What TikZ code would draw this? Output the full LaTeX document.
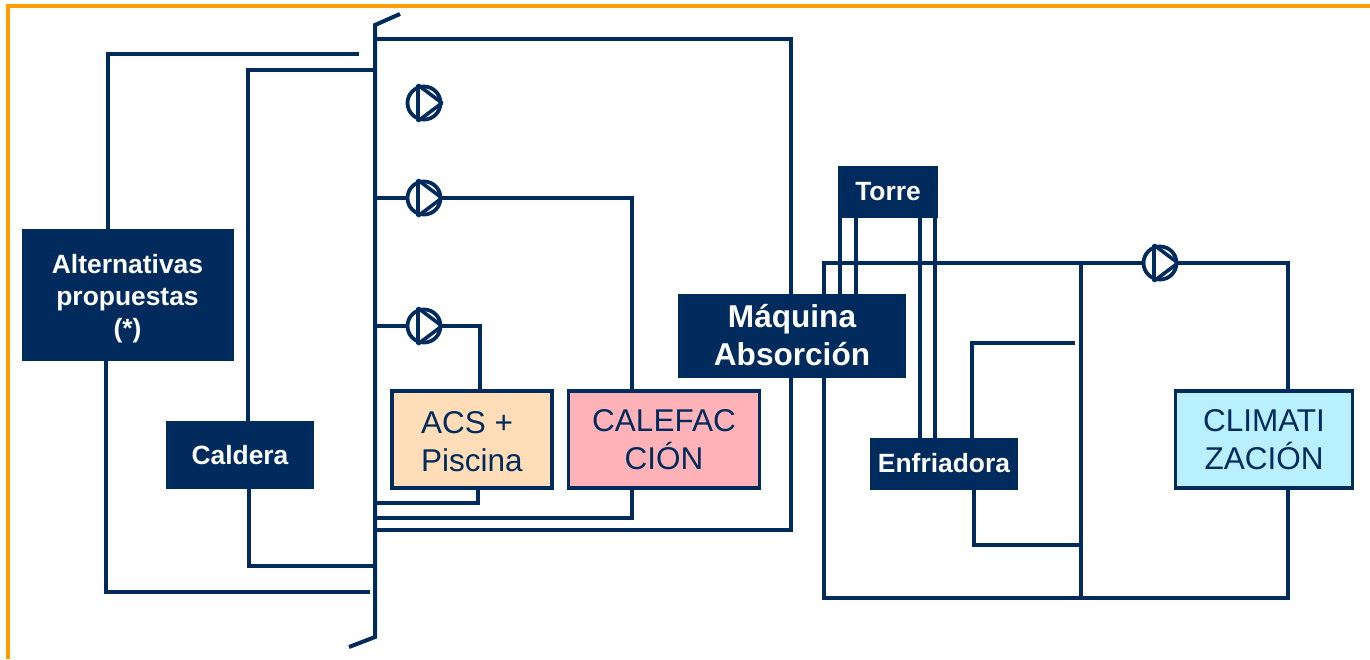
\documentclass[tikz,border=0pt]{standalone}
\usepackage{fontspec}
\setmainfont{Liberation Sans}
\usetikzlibrary{positioning}
\definecolor{navy}{HTML}{002B5C}
\definecolor{marco}{HTML}{FF9E00}
\definecolor{acsfill}{HTML}{FFDDB8}
\definecolor{calfill}{HTML}{FFB3B8}
\definecolor{climfill}{HTML}{B8F0FF}
\tikzset{
pipe/.style={draw=navy,line width=3.4pt}, % the water circuits
equipo/.style={fill=navy,draw=navy,line width=3pt,text=white,font=\fontsize{26.4}{32}\selectfont\bfseries,align=center,inner sep=0pt,outer sep=0pt},
consumo/.style={draw=navy,line width=3.4pt,text=navy,font=\fontsize{31.5}{38}\selectfont,align=center,inner sep=0pt,outer sep=0pt,minimum height=97pt},
bomba/.style={circle,draw=navy,line width=3.8pt,minimum size=33pt,inner sep=0pt,outer sep=0pt},
}

\begin{document}
\begin{tikzpicture}[x=1pt,y=-1pt,on grid]
    \useasboundingbox (0,0) rectangle (1370,659);
    \draw[draw=marco,line width=4pt] (8,659) -- (8,6) -- (1370,6);

    \node[equipo,minimum width=209pt,minimum height=129pt] (alternativas) at (127.5,295) {\rule{0pt}{27pt}Alternativas\\propuestas\\(*)};
    \node[equipo,minimum width=145pt,minimum height=65pt] (caldera) [below right=160pt and 112.5pt of alternativas] {Caldera};
    \node[consumo,fill=acsfill,minimum width=160pt,align=left] (acs) [above right=15.5pt and 232pt of caldera] {\rule{0pt}{26.5pt}ACS +\\Piscina};
    \node[consumo,fill=calfill,minimum width=191pt] (calefaccion) [right=192pt of acs] {CALEFAC\\CIÓN};
    \node[equipo,font=\fontsize{31.6}{38}\selectfont\bfseries,minimum width=225pt,minimum height=81pt] (maquina) [above right=104pt and 128pt of calefaccion] {Máquina\\Absorción};
    \node[equipo,minimum width=97pt,minimum height=49pt] (torre) [above right=144pt and 96pt of maquina] {Torre};
    \node[equipo,minimum width=145pt,minimum height=49pt] (enfriadora) [below right=272pt and 56pt of torre] {Enfriadora};
    \node[consumo,fill=climfill,minimum width=177pt] (climatizacion) [right=320pt of enfriadora,yshift=24pt] {CLIMATI\\ZACIÓN};

    \node[bomba] (pump1) at (424,103) {};
    \node[bomba] (pump2) [below=95pt of pump1] {};
    \node[bomba] (pump3) [below=128pt of pump2] {};
    \node[bomba] (pump4) at (1160,263) {};
    \foreach \p in {pump1,pump2,pump3,pump4}
        \draw[draw=navy,line width=3.6pt,line join=bevel] ([shift={(-6pt,18pt)}]\p.center) -- ([shift={(18pt,0pt)}]\p.center) -- ([shift={(-6pt,-18pt)}]\p.center) -- cycle;

    % ends on the collector
    \coordinate (bus1) at (375,25);
    \coordinate (bus2) at (375,637);
    \coordinate (altin) at (359,54);
    \coordinate (altout) at (370,592);
    \coordinate (calin) at (375,70);
    \coordinate (calout) at (375,566);
    \coordinate (maqin) at (375,39);
    \coordinate (maqout) at (375,530);
    \coordinate (calefout) at (375,518);
    \coordinate (acsout) at (375,503);
    \coordinate (colA) at (1081,263);
    \coordinate (colB) at (1081,598);
    \coordinate (enfin) at (1075,343);
    \coordinate (enfout) at (1081,545);
    \coordinate (retclim) at (1288,598);

    \draw[pipe,line width=4pt] (400,14) -- (bus1) -- (bus2) -- (349,647);

    \draw[pipe] (altin) -| ([xshift=-19.5pt]alternativas.north);
    \draw[pipe] ([xshift=-21.5pt]alternativas.south) |- (altout);
    \draw[pipe] (calin) -| ([xshift=8pt]caldera.north);
    \draw[pipe] ([xshift=9pt]caldera.south) |- (calout);
    \draw[pipe] (maqin) -| ([xshift=-1pt]maquina.north);
    \draw[pipe] ([xshift=-1pt]maquina.south) |- (maqout);
    \draw[pipe] (pump2) -- (pump2 -| bus1);
    \draw[pipe] (pump2) -| ([xshift=-32pt]calefaccion.north);
    \draw[pipe] ([xshift=-32pt]calefaccion.south) |- (calefout);
    \draw[pipe] (pump3) -- (pump3 -| bus1);
    \draw[pipe] (pump3) -| ([xshift=8pt]acs.north);
    \draw[pipe] ([xshift=6pt]acs.south) |- (acsout);

    \draw[pipe] ([xshift=32pt]maquina.north) |- (pump4);
    \draw[pipe] (pump4) -| ([xshift=24pt]climatizacion.north);
    \draw[pipe] ([xshift=32pt]maquina.south) |- (retclim) -- ([xshift=24pt]climatizacion.south);
    \draw[pipe] (colA) -- (colB);
    \draw[pipe] (enfin) -| ([xshift=28pt]enfriadora.north);
    \draw[pipe] ([xshift=30pt]enfriadora.south) |- (enfout);
    \foreach \s/\e in {-48/48,-32/64}
        \draw[pipe] ([xshift=\s pt]torre.south) -- ([xshift=\e pt]maquina.north);
    \foreach \s/\e in {32/-24,47/-9}
        \draw[pipe] ([xshift=\s pt]torre.south) -- ([xshift=\e pt]enfriadora.north);
\end{tikzpicture}
\end{document}
